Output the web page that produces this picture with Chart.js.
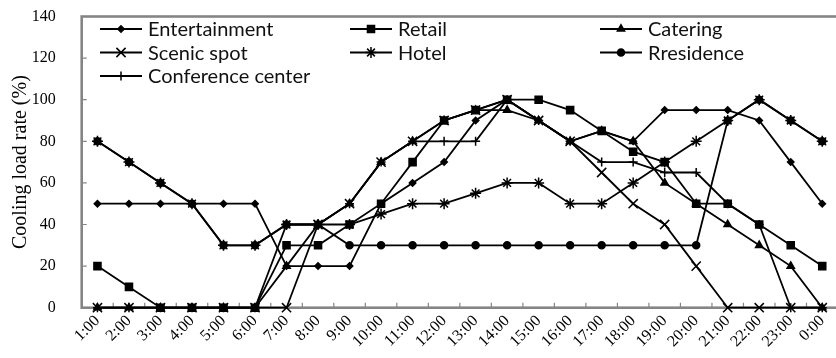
<!DOCTYPE html>
<html>
<head>
<meta charset="utf-8">
<script src="https://cdn.jsdelivr.net/npm/chart.js@4.4.1/dist/chart.umd.min.js"></script>
<style>
  html, body { margin: 0; padding: 0; overflow: hidden; background: #fff; }
  #wrap { width: 846px; height: 358px; }
</style>
</head>
<body>
<div id="wrap"><canvas id="chart" width="846" height="358"></canvas></div>
<script>
// Hourly categories
const hours = ['1:00','2:00','3:00','4:00','5:00','6:00','7:00','8:00','9:00','10:00','11:00','12:00',
               '13:00','14:00','15:00','16:00','17:00','18:00','19:00','20:00','21:00','22:00','23:00','0:00'];

// Cooling load rate (%) per building type
const entertainment = [50,50,50,50,50,50,20,20,20,50,60,70,90,100,90,80,85,80,95,95,95,90,70,50];
const retail        = [20,10,0,0,0,0,30,30,40,50,70,90,95,100,100,95,85,75,70,50,50,40,30,20];
const catering      = [0,0,0,0,0,0,20,40,50,70,80,90,95,95,90,80,85,80,60,50,40,30,20,0];
const scenicSpot    = [0,0,0,0,0,0,0,40,50,70,80,90,95,100,90,80,65,50,40,20,0,0,0,0];
const hotel         = [80,70,60,50,30,30,40,40,40,45,50,50,55,60,60,50,50,60,70,80,90,100,90,80];
const residence     = [80,70,60,50,30,30,40,40,30,30,30,30,30,30,30,30,30,30,30,30,90,100,90,80];
const conference    = [0,0,0,0,0,0,40,40,50,70,80,80,80,100,90,80,70,70,65,65,50,40,0,0];

// Y axis ticks
const yTicks = [0,20,40,60,80,100,120,140];

const AXIS_GRAY = '#858585';
const SERIF = '"Liberation Serif", "Times New Roman", serif';

function series(label, data, style, radius) {
  return {
    label, data,
    borderColor: '#000', backgroundColor: '#000',
    borderWidth: 1.8,
    pointStyle: style, pointRadius: radius, pointHoverRadius: radius,
    pointBorderColor: '#000', pointBackgroundColor: '#000', pointBorderWidth: 1.5,
    tension: 0, clip: false
  };
}

const datasets = [
  series('Entertainment', entertainment, 'rectRot', 3.2),
  series('Retail', retail, 'rect', 5),
  series('Catering', catering, 'triangle', 4.2),
  series('Scenic spot', scenicSpot, 'crossRot', 6.5),
  series('Hotel', hotel, 'star', 5.5),
  series('Rresidence', residence, 'circle', 3.5),
  series('Conference center', conference, 'cross', 4.5)
];

// Fixed plot area
const AREA = { left: 81.7, top: 16.5, right: 842.5, bottom: 307.7 };

// Frame around the plot area plus short inward tick marks
const framePlugin = {
  id: 'frame',
  beforeDatasetsDraw(chart) {
    const { ctx, chartArea: a, scales } = chart;
    ctx.save();
    ctx.strokeStyle = AXIS_GRAY;
    ctx.lineWidth = 1.2;
    ctx.beginPath();
    yTicks.forEach(v => {
      if (v === 0 || v === 140) return;
      const y = scales.y.getPixelForValue(v);
      ctx.moveTo(a.left, y); ctx.lineTo(a.left + 5, y);
    });
    const xs = scales.x;
    for (let i = 1; i < hours.length; i++) {
      const x = (xs.getPixelForValue(i - 1) + xs.getPixelForValue(i)) / 2;
      ctx.moveTo(x, a.bottom); ctx.lineTo(x, a.bottom - 5);
    }
    ctx.stroke();
    ctx.lineWidth = 2.6;
    ctx.strokeRect(a.left, a.top, a.right - a.left, a.bottom - a.top);
    ctx.restore();
  },
  afterDraw(chart) {
    // legend: three columns inside the plot area
    const { ctx } = chart;
    ctx.save();
    chart.data.datasets.forEach((ds, i) => {
      const col = i % 3, row = Math.floor(i / 3);
      const x0 = 100 + col * 250, y = 29 + row * 23.5;
      ctx.strokeStyle = '#000';
      ctx.fillStyle = '#000';
      ctx.lineWidth = 1.8;
      ctx.beginPath(); ctx.moveTo(x0, y); ctx.lineTo(x0 + 42, y); ctx.stroke();
      ctx.lineWidth = 1.5;
      Chart.helpers.drawPoint(ctx, {
        pointStyle: ds.pointStyle, radius: ds.pointRadius, rotation: 0, borderWidth: 1.5
      }, x0 + 21, y);
      ctx.font = '20px Lato, "Open Sans", sans-serif';
      ctx.textBaseline = 'middle';
      ctx.textAlign = 'left';
      ctx.fillStyle = '#111';
      ctx.fillText(ds.label, x0 + 48, y + 1);
    });
    ctx.restore();
  }
};

new Chart(document.getElementById('chart'), {
  type: 'line',
  data: { labels: hours, datasets },
  options: {
    responsive: false,
    animation: false,
    devicePixelRatio: 1,
    layout: { padding: { top: AREA.top, right: 846 - AREA.right, left: 0, bottom: 0 } },
    plugins: { legend: { display: false }, tooltip: { enabled: false } },
    scales: {
      x: {
        type: 'category',
        offset: true,
        grid: { display: false, drawTicks: false },
        border: { display: false },
        ticks: {
          autoSkip: false, maxRotation: 45, minRotation: 45,
          color: '#000', padding: 4,
          font: { family: SERIF, size: 16 }
        },
        afterFit(s) { s.height = 358 - AREA.bottom; s.paddingLeft = 0; s.paddingRight = 0; }
      },
      y: {
        min: 0, max: 140,
        afterBuildTicks(s) { s.ticks = yTicks.map(v => ({ value: v })); },
        grid: { display: false, drawTicks: false },
        border: { display: false },
        ticks: { color: '#000', padding: 26, font: { family: SERIF, size: 16 } },
        title: {
          display: true, text: 'Cooling load rate (%)', color: '#000',
          font: { family: SERIF, size: 20 }, padding: { top: 9, bottom: 0 }
        },
        afterFit(s) { s.width = AREA.left; s.paddingTop = 0; s.paddingBottom = 0; }
      }
    }
  },
  plugins: [framePlugin]
});
</script>
</body>
</html>
